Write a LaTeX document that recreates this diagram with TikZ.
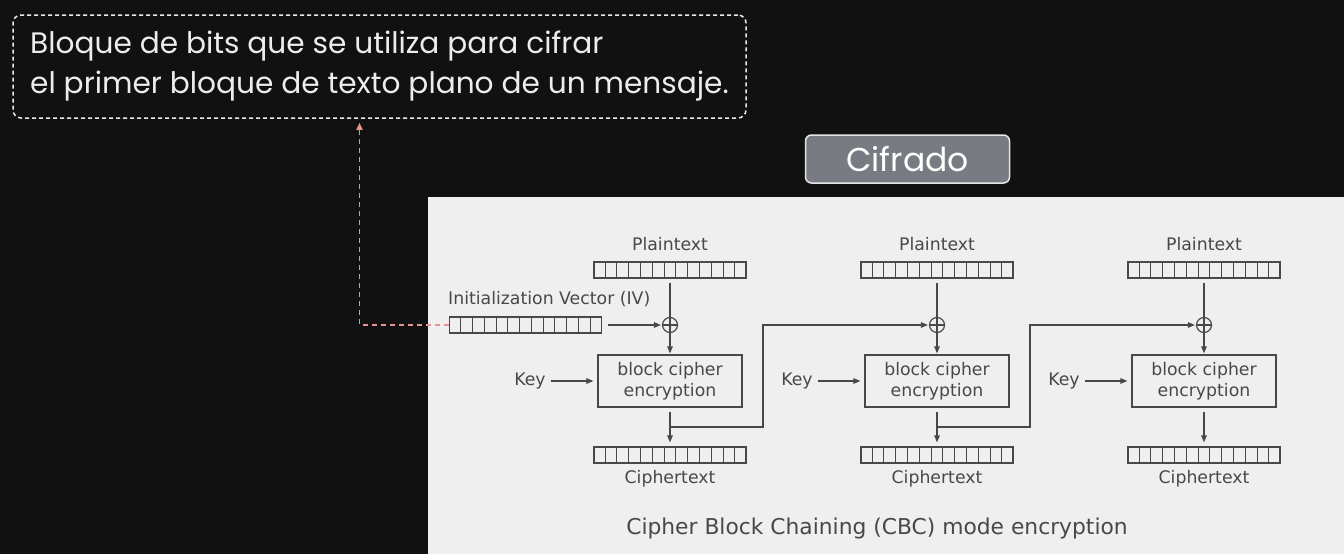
\documentclass[tikz,border=0pt]{standalone}
\usepackage{fontspec}
\setmainfont{DejaVu Sans}
\newfontfamily\handfont{Poppins}
\usepackage{tikz}
\usetikzlibrary{arrows.meta, shapes, positioning, calc}
\usepackage{xcolor}
\definecolor{backblack}{RGB}{17,17,17}
\definecolor{panelgray}{RGB}{239,239,239}
\definecolor{inkgray}{RGB}{72,72,72}
\definecolor{linkpink}{RGB}{228,146,146}
\definecolor{taggray}{RGB}{120,123,129}
\tikzset{registernode/.style={rectangle, draw=inkgray, line width=1.2pt, minimum width=152pt, minimum height=16pt, inner sep=0pt},
ciphernode/.style={rectangle, draw=inkgray, line width=1.2pt, minimum width=144pt, minimum height=52pt, align=center, text=inkgray, font=\fontsize{17.3}{21}\selectfont}}
\tikzset{labeltext/.style={text=inkgray, inner sep=1pt, font=\fontsize{17.3}{21}\selectfont},
flowarrow/.style={draw=inkgray, line width=1.2pt, -{Stealth[length=7pt, width=5.5pt, inset=0pt]}}}

\begin{document}
\begin{tikzpicture}[
        x=1pt, y=-1pt,
        line join=miter,
        xornode/.style={circle, draw=inkgray, line width=1.2pt, minimum size=15pt, inner sep=0pt,
            path picture={\draw[inkgray, line width=1.2pt] (path picture bounding box.north) -- (path picture bounding box.south) (path picture bounding box.west) -- (path picture bounding box.east);}},
        notebox/.style={rectangle, rounded corners=8pt, draw=white!92!black, dashed, dash pattern=on 4pt off 3pt, line width=1.5pt, minimum width=733pt, minimum height=103pt, inner xsep=16pt, align=left, text=white!93!black, font=\handfont\fontsize{29.6}{40}\selectfont},
        tagbox/.style={rectangle, rounded corners=6pt, fill=taggray, draw=white!90!black, line width=1.5pt, minimum width=204pt, minimum height=48pt, text=white, font=\handfont\fontsize{33}{36}\selectfont},
        linkarrow/.style={draw=linkpink, line width=1.6pt, dashed, dash pattern=on 5pt off 4pt, -{Stealth[length=7pt, width=6pt, inset=0pt]}}
    ]
        % Background
        \fill[backblack] (0,0) rectangle (1344,554);
        \fill[panelgray] (428,197) rectangle (1344,554);
        \useasboundingbox (0,0) rectangle (1344,554);
        % Note and tag
        \node[notebox] (note) at (379.5,66.5) {Bloque de bits que se utiliza para cifrar\\el primer bloque de texto plano de un mensaje.};
        \node[tagbox] (tag) at (907.5,159) {Cifrado};
        % Columns
        \foreach \i/\x in {1/670, 2/937, 3/1204} {
            \node[labeltext] (ptl\i) at (\x,244) {Plaintext};
            \node[registernode] (pt\i) at (\x,270) {};
            \node[xornode] (xor\i) at (\x,325) {};
            \node[ciphernode] (enc\i) at (\x,381) {block cipher\\encryption};
            \node[labeltext] (key\i) at (\x-140,381) {Key};
            \node[registernode] (ct\i) at (\x,455) {};
            \node[labeltext] (ctl\i) at (\x,479) {Ciphertext};
            \draw[inkgray, line width=1.2pt, shorten <=4pt] (pt\i) -- (xor\i);
            \draw[flowarrow, shorten >=1pt] (xor\i) -- (enc\i);
            \draw[flowarrow, shorten <=4pt, shorten >=4pt] (key\i) -- (enc\i);
            \draw[flowarrow, shorten <=4pt, shorten >=4pt] (enc\i) -- (ct\i);
        }
        % Initialization vector
        \node[registernode] (iv) at (525.5,325) {};
        \node[labeltext, anchor=west] (ivl) at (447,299) {Initialization Vector (IV)};
        \draw[flowarrow, shorten <=6pt, shorten >=1pt] (iv) -- (xor1);
        % Chaining
        \foreach \i/\j/\r in {1/2/763, 2/3/1030} {
            \coordinate (tap\i) at ($(enc\i.south)!0.5!(ct\i.north)$);
            \coordinate (riser\i) at (\r,325);
            \draw[flowarrow, shorten >=1pt] (tap\i) -| (riser\i) -- (xor\j);
        }
        % Register cells
        \foreach \r in {pt1, pt2, pt3, ct1, ct2, ct3, iv} {
            \foreach \k in {1,...,12} {
                \draw[inkgray, line width=1pt] ($(\r.north west)!\k/13!(\r.north east)$) -- ($(\r.south west)!\k/13!(\r.south east)$);
            }
        }
        % Caption
        \node[labeltext, font=\fontsize{21.8}{26}\selectfont] (title) at (877,528) {Cipher Block Chaining (CBC) mode encryption};
        % Link to note
        \draw[linkarrow] (iv.west) -| ([xshift=-20pt, yshift=-4pt]note.south);
    \end{tikzpicture}
\end{document}
